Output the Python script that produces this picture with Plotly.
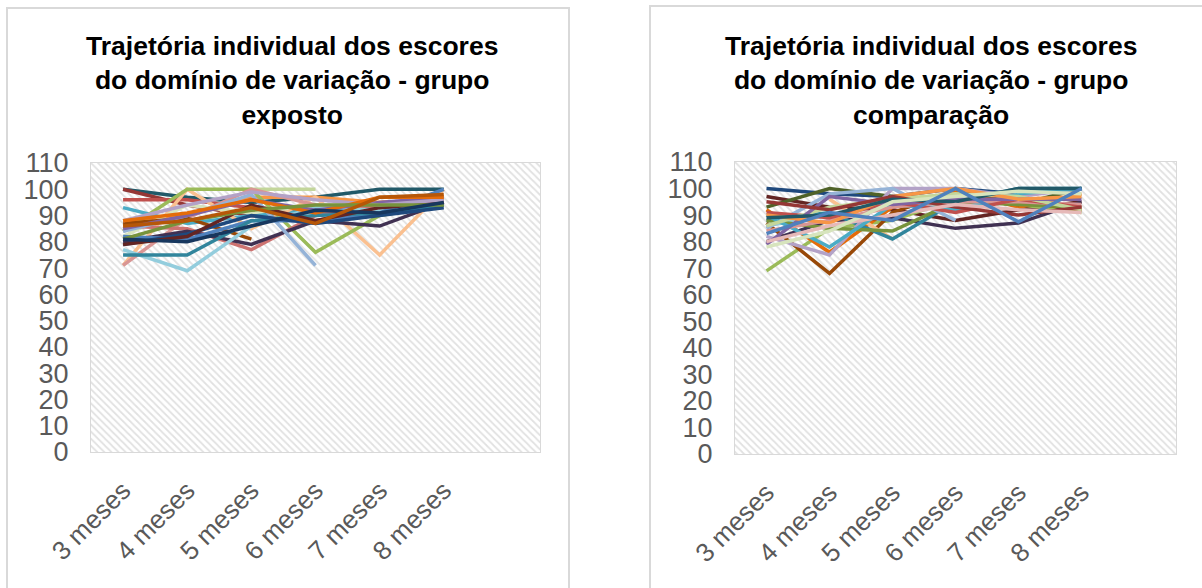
import plotly.graph_objects as go

# Assessment points (x axis categories)
months = ["3 meses", "4 meses", "5 meses", "6 meses", "7 meses", "8 meses"]

# Individual trajectories - exposed group (None = missing assessment)
exposto_colors = [
    "#215968", "#953735", "#C0504D", "#4BACC6", "#F79646", "#FAC090",
    "#9BBB59", "#C3D69B", "#D7E4BD", "#D99694", "#CD7371", "#403152",
    "#984807", "#93CDDD", "#95B3D7", "#4F81BD", "#31859C", "#1F497D",
    "#8064A2", "#632523", "#B3A2C7", "#E46C0A", "#77933C", "#17375E",
    "#B65708",
]
exposto_scores = [
    [100, 97, 95, 97, 100, 100],
    [100, 94, 90, 88, 92, 96],
    [96, 96, 93, 92, 95, 96],
    [93, 87, 90, 92, 93, 95],
    [88, 90, 97, 97, 95, 96],
    [71, 100, 85, 97, 75, 100],
    [84, 100, 100, 76, 90, 94],
    [None, None, 100, 100, None, None],
    [82, 94, 91, 94, 94, 94],
    [71, 89, 100, 94, 92, 95],
    [86, 85, 77, 90, 94, 95],
    [80, 84, 79, 88, 86, 95],
    [87, 89, 81, None, None, None],
    [77, 69, 86, 93, 92, 95],
    [84, 90, 98, 71, None, None],
    [82, 81, 88, 88, 91, 100],
    [75, 75, 88, 90, 91, 94],
    [79, 83, 90, 87, 90, 93],
    [85, 90, 96, 92, 95, 97],
    [79, 82, 94, 88, 93, 95],
    [88, 94, 99, 96, 94, 96],
    [88, 91, 96, 91, 97, 97],
    [81, 88, 92, 94, 94, 94],
    [81, 80, 86, 92, 91, 95],
    [86, 88, 93, 87, 97, 98],
]

# Individual trajectories - comparison group
comparacao_colors = [
    "#1F497D", "#632523", "#9BBB59", "#984807", "#E46C0A", "#4F6228",
    "#403152", "#FAC090", "#31859C", "#93CDDD", "#B3A2C7", "#77933C",
    "#95B3D7", "#4BACC6", "#D99694", "#C0504D", "#C3D69B", "#8064A2",
    "#F79646", "#953735", "#215968", "#E6B9B8", "#D7E4BD", "#4F81BD",
]
comparacao_scores = [
    [100, 98, 97, 100, 98, 100],
    [97, 93, 92, 88, 92, 95],
    [69, 85, 88, 96, 94, 91],
    [87, 68, 91, 99, 95, 92],
    [92, 76, 93, 99, 93, 98],
    [93, 100, 97, 96, 94, 100],
    [80, 88, 89, 85, 87, 95],
    [None, 96, 81, None, None, None],
    [88, 91, 81, 95, 100, 100],
    [86, 90, 95, 92, None, None],
    [82, 75, 100, 100, 97, 100],
    [88, 85, 84, 95, 94, 93],
    [85, 98, 100, 88, None, None],
    [90, 78, 94, 92, 98, 100],
    [84, 88, 93, 95, 95, 94],
    [91, 89, 95, 91, 96, 93],
    [86, 93, 96, 98, 97, 92],
    [79, 97, 94, 96, 96, 96],
    [90, 87, 97, 100, 96, 97],
    [95, 92, 97, 93, 90, 93],
    [89, 90, 96, 95, 100, 100],
    [80, 86, 90, 94, 92, 91],
    [78, 84, 95, 97, 99, 98],
    [83, 91, 88, 100, 87.5, 100],
]

titles = [
    "Trajetória individual dos escores<br>do domínio de variação - grupo<br>exposto",
    "Trajetória individual dos escores<br>do domínio de variação - grupo<br>comparação",
]

Y_MAX = 110
N_SLOTS = 7  # category slots on the axis (last one stays empty)
X_RANGE = [-0.5, N_SLOTS - 0.5]

FONT = "Liberation Sans, Arial, sans-serif"
GRID = "#d9d9d9"
TICK_COLOR = "#595959"

W, H = 1202, 588

fig = go.Figure()

panels = [
    dict(scores=exposto_scores, colors=exposto_colors, xa="x", ya="y",
         dom_x=(91, 540), dom_y=(163, 452), frame=(7, 569, 8), title_x=292),
    dict(scores=comparacao_scores, colors=comparacao_colors, xa="x2", ya="y2",
         dom_x=(735, 1176), dom_y=(162, 454), frame=(650, 1260, 6), title_x=931),
]

xs = list(range(len(months)))

for i, p in enumerate(panels):
    # hatched plot-area background
    fig.add_trace(go.Scatter(
        x=[X_RANGE[0], X_RANGE[1], X_RANGE[1], X_RANGE[0], X_RANGE[0]],
        y=[0, 0, Y_MAX, Y_MAX, 0],
        xaxis=p["xa"], yaxis=p["ya"],
        mode="none", fill="toself", fillcolor="white",
        fillpattern=dict(shape="\\", size=5, solidity=0.35,
                         fgcolor="#c4c4c4", bgcolor="white"),
        hoverinfo="skip", showlegend=False,
    ))
    for vals, col in zip(p["scores"], p["colors"]):
        fig.add_trace(go.Scatter(
            x=xs, y=vals, xaxis=p["xa"], yaxis=p["ya"],
            mode="lines", line=dict(color=col, width=3.5),
            connectgaps=False, showlegend=False,
        ))

    sfx = "" if i == 0 else "2"
    x0, x1 = p["dom_x"]
    ytop, ybot = p["dom_y"]
    fig.layout["xaxis" + sfx] = dict(
        domain=[x0 / W, x1 / W], anchor="y" + sfx,
        range=X_RANGE, tickvals=xs, ticktext=months, tickangle=-45,
        tickfont=dict(family=FONT, size=26, color=TICK_COLOR),
        showgrid=True, gridcolor=GRID, gridwidth=1, zeroline=False,
        showline=True, linecolor=GRID, mirror=True,
        minor=dict(dtick=0.5, tick0=-0.5, showgrid=True, gridcolor=GRID, gridwidth=1),
        ticks="", ticklabelstandoff=12, automargin=False, fixedrange=True,
    )
    fig.layout["yaxis" + sfx] = dict(
        domain=[(H - ybot) / H, (H - ytop) / H], anchor="x" + sfx,
        range=[0, Y_MAX], dtick=10, tick0=0,
        tickfont=dict(family=FONT, size=27, color=TICK_COLOR),
        showgrid=True, gridcolor=GRID, gridwidth=1, zeroline=False,
        showline=True, linecolor=GRID, mirror=True,
        ticks="", ticklabelstandoff=16, automargin=False, fixedrange=True,
    )

    # chart frame
    fx0, fx1, fy = p["frame"]
    fig.add_shape(type="rect", xref="paper", yref="paper",
                  x0=fx0 / W, x1=fx1 / W, y0=-0.1, y1=(H - fy) / H,
                  line=dict(color=GRID, width=2), fillcolor="rgba(0,0,0,0)",
                  layer="below")

    fig.add_annotation(
        text=titles[i], xref="paper", yref="paper",
        x=p["title_x"] / W, y=(H - 81) / H, xanchor="center", yanchor="middle",
        showarrow=False, align="center",
        font=dict(family=FONT, size=26.5, color="#000000", weight="bold"),
    )

fig.update_layout(
    width=W, height=H,
    margin=dict(l=0, r=0, t=0, b=0, autoexpand=False),
    paper_bgcolor="white", plot_bgcolor="white",
    showlegend=False,
)

fig.write_html("out.html")
